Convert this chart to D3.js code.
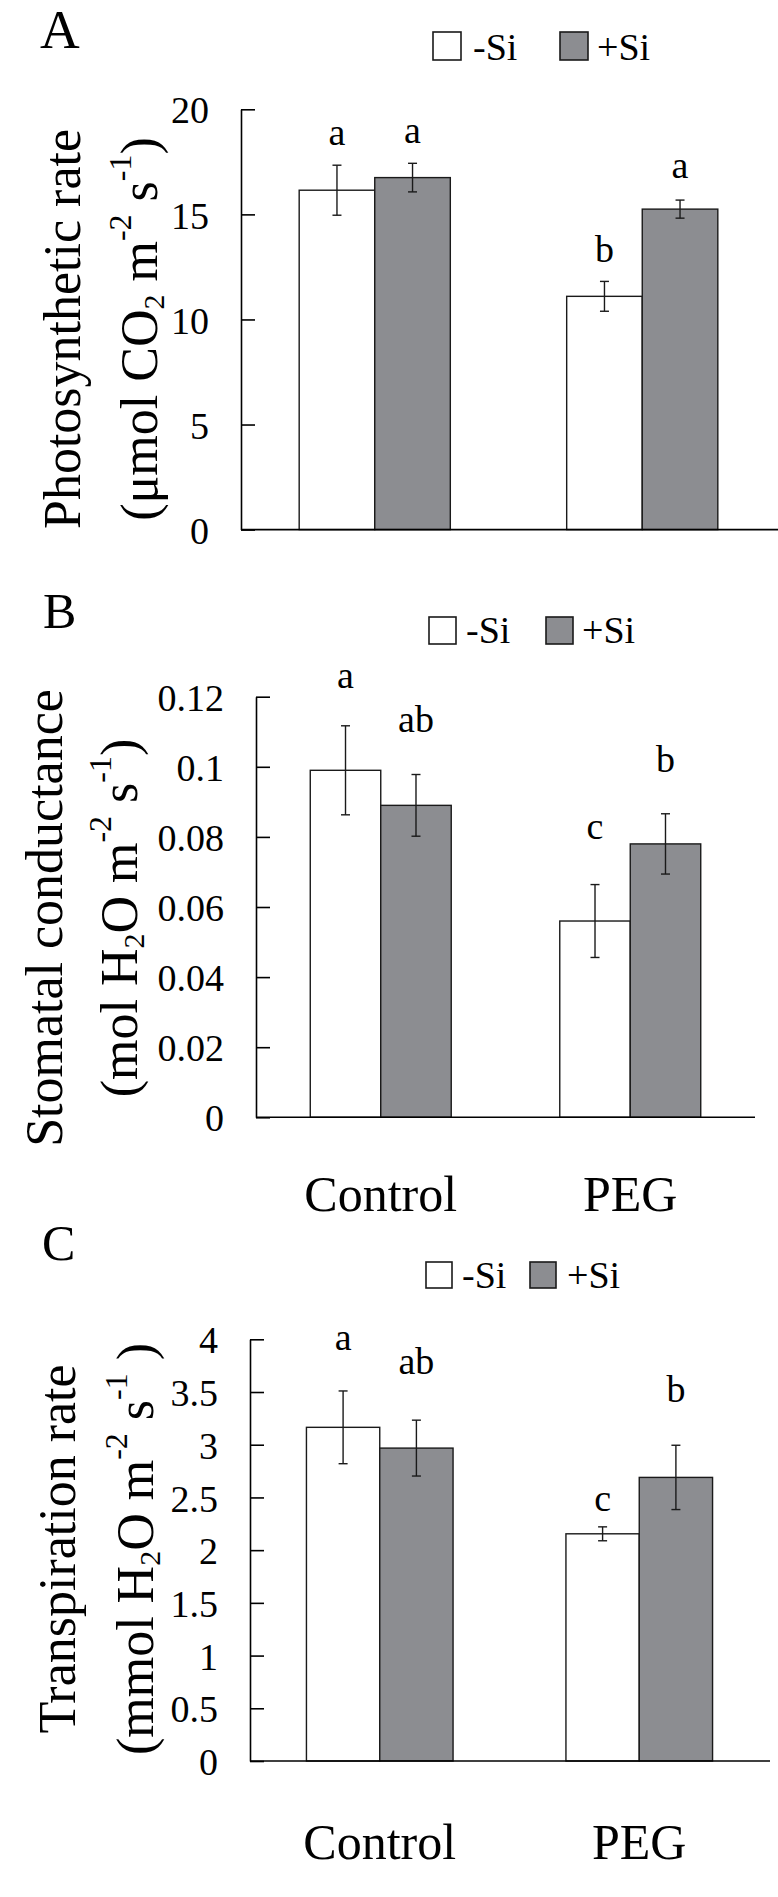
<!DOCTYPE html>
<html><head><meta charset="utf-8">
<script src="https://cdn.jsdelivr.net/npm/d3@7"></script>
<style>
body{margin:0;background:#fff}
svg{display:block}
text{font-family:"Liberation Serif","Times New Roman",serif;fill:#000}
</style>
</head><body><div id="chart"></div>
<script>
// ---------- data ----------
const categories = ["Control", "PEG"];
const seriesNames = ["-Si", "+Si"];

// A: Photosynthetic rate
const photoMinus = [16.15, 11.10];
const photoPlus = [16.75, 15.25];
const photoErrMinus = [1.19, 0.71];
const photoErrPlus = [0.68, 0.43];
const photoLetMinus = ["a", "b"];
const photoLetPlus = ["a", "a"];
const photoTicks = [0, 5, 10, 15, 20];
const photoTickLabels = ["0", "5", "10", "15", "20"];

// B: Stomatal conductance
const condMinus = [0.099, 0.056];
const condPlus = [0.089, 0.078];
const condErrMinus = [0.0127, 0.0104];
const condErrPlus = [0.0088, 0.0086];
const condLetMinus = ["a", "c"];
const condLetPlus = ["ab", "b"];
const condTicks = [0, 0.02, 0.04, 0.06, 0.08, 0.1, 0.12];
const condTickLabels = ["0", "0.02", "0.04", "0.06", "0.08", "0.1", "0.12"];

// C: Transpiration rate
const transMinus = [3.165, 2.155];
const transPlus = [2.968, 2.690];
const transErrMinus = [0.345, 0.066];
const transErrPlus = [0.265, 0.305];
const transLetMinus = ["a", "c"];
const transLetPlus = ["ab", "b"];
const transTicks = [0, 0.5, 1, 1.5, 2, 2.5, 3, 3.5, 4];
const transTickLabels = ["0", "0.5", "1", "1.5", "2", "2.5", "3", "3.5", "4"];

// ---------- layout ----------
const W = 778, H = 1897;
const GRAY = "#8c8d91";
const FONT = '"Liberation Serif","Times New Roman",serif';

const panels = [
  {
    letter: "A", letterX: 40, letterY: 48, letterSize: 55,
    values: [photoMinus, photoPlus], errs: [photoErrMinus, photoErrPlus],
    lets: [photoLetMinus, photoLetPlus], gaps: [[20, 19], [20, 22]],
    ticks: photoTicks, tickLabels: photoTickLabels, max: 20,
    x0: 241, x1: 776, axisEnd: 778, yTop: 109.3, yBottom: 529.6,
    legend: {boxes: [433, 560], texts: [473, 597], y: 32, size: 28, base: 60},
    ylab: {cy: 329, b1: 80, b2: 157,
      line1: [["Photosynthetic rate"]],
      line2: [["(μmol CO"], ["2", "sub"], [" m"], ["-2", "sup"], [" s"], ["-1", "sup"], [")"]]},
    cat: null
  },
  {
    letter: "B", letterX: 43, letterY: 628, letterSize: 50,
    values: [condMinus, condPlus], errs: [condErrMinus, condErrPlus],
    lets: [condLetMinus, condLetPlus], gaps: [[38, 46], [43, 42]],
    ticks: condTicks, tickLabels: condTickLabels, max: 0.12,
    x0: 256, x1: 755, axisEnd: 755, yTop: 696.7, yBottom: 1117.3,
    legend: {boxes: [429, 546], texts: [466, 582], y: 617, size: 27, base: 643},
    ylab: {cy: 918, b1: 62, b2: 137,
      line1: [["Stomatal conductance"]],
      line2: [["(mol H"], ["2", "sub"], ["O m"], ["-2", "sup"], [" s"], ["-1", "sup"], [")"]]},
    cat: 1211
  },
  {
    letter: "C", letterX: 42, letterY: 1260, letterSize: 50,
    values: [transMinus, transPlus], errs: [transErrMinus, transErrPlus],
    lets: [transLetMinus, transLetPlus], gaps: [[41, 16], [46, 43]],
    ticks: transTicks, tickLabels: transTickLabels, max: 4,
    x0: 250, x1: 769, axisEnd: 770, yTop: 1339.3, yBottom: 1761,
    legend: {boxes: [426, 530], texts: [462, 567], y: 1262, size: 26, base: 1288},
    ylab: {cy: 1549, b1: 75, b2: 153,
      line1: [["Transpiration rate"]],
      line2: [["(mmol H"], ["2", "sub"], ["O m"], ["-2", "sup"], [" s"], ["-1", "sup"], [" )"]]},
    cat: 1859
  }
];

const svg = d3.select("#chart").append("svg").attr("width", W).attr("height", H)
  .style("background", "#fff");

function richText(sel, segs, size) {
  let shift = 0;
  segs.forEach(([t, kind]) => {
    const ts = sel.append("tspan").text(t);
    let target = 0, fs = size;
    if (kind === "sup") { target = -26; fs = 32; }
    if (kind === "sub") { target = 7; fs = 30; }
    ts.attr("dy", target - shift).attr("font-size", fs);
    shift = target;
  });
}

panels.forEach(p => {
  const g = svg.append("g");
  const x = d3.scaleBand().domain(categories).range([p.x0, p.x1])
    .paddingInner(0.435).paddingOuter(0.2175);
  const xs = d3.scaleBand().domain(seriesNames).range([0, x.bandwidth()]);
  const y = d3.scaleLinear().domain([0, p.max]).range([p.yBottom, p.yTop]);

  const rows = [];
  categories.forEach((c, i) => seriesNames.forEach((s, j) => {
    rows.push({c, s, j, v: p.values[j][i], e: p.errs[j][i], l: p.lets[j][i], gap: p.gaps[j][i]});
  }));

  // bars
  g.selectAll("rect.bar").data(rows).join("rect").attr("class", "bar")
    .attr("x", d => x(d.c) + xs(d.s))
    .attr("y", d => y(d.v))
    .attr("width", xs.bandwidth())
    .attr("height", d => y(0) - y(d.v))
    .attr("fill", d => d.j ? GRAY : "#fff")
    .attr("stroke", "#1a1a1a").attr("stroke-width", 1.4);

  // error bars
  const cx = d => x(d.c) + xs(d.s) + xs.bandwidth() / 2;
  const eb = g.selectAll("g.err").data(rows).join("g").attr("class", "err")
    .attr("stroke", "#1a1a1a").attr("stroke-width", 1.4);
  eb.append("line").attr("x1", cx).attr("x2", cx)
    .attr("y1", d => y(d.v + d.e)).attr("y2", d => y(d.v - d.e));
  eb.append("line").attr("x1", d => cx(d) - 4.5).attr("x2", d => cx(d) + 4.5)
    .attr("y1", d => y(d.v + d.e)).attr("y2", d => y(d.v + d.e));
  eb.append("line").attr("x1", d => cx(d) - 4.5).attr("x2", d => cx(d) + 4.5)
    .attr("y1", d => y(d.v - d.e)).attr("y2", d => y(d.v - d.e));

  // significance letters
  g.selectAll("text.sig").data(rows).join("text").attr("class", "sig")
    .attr("x", cx).attr("y", d => y(d.v + d.e) - d.gap)
    .attr("text-anchor", "middle").attr("font-size", 38).text(d => d.l);

  // y axis
  const ax = g.append("g").attr("transform", `translate(${p.x0},0)`)
    .call(d3.axisLeft(y).tickValues(p.ticks).tickFormat((d, i) => p.tickLabels[i])
      .tickSizeInner(-14).tickSizeOuter(0).tickPadding(32));
  ax.attr("font-size", 38).attr("font-family", FONT);
  ax.selectAll("line").attr("stroke", "#000").attr("stroke-width", 1.6);
  ax.select(".domain").attr("stroke", "#000").attr("stroke-width", 1.6);
  ax.selectAll("text").attr("fill", "#000").attr("dy", "0.36em");

  // x axis line
  g.append("line").attr("x1", p.x0).attr("x2", p.axisEnd)
    .attr("y1", y(0)).attr("y2", y(0))
    .attr("stroke", "#000").attr("stroke-width", 1.6);

  // category labels
  if (p.cat) {
    g.selectAll("text.cat").data(categories).join("text").attr("class", "cat")
      .attr("x", d => x(d) + x.bandwidth() / 2).attr("y", p.cat)
      .attr("text-anchor", "middle").attr("font-size", 50).text(d => d);
  }

  // panel letter
  g.append("text").attr("x", p.letterX).attr("y", p.letterY)
    .attr("font-size", p.letterSize).text(p.letter);

  // legend
  const L = p.legend;
  seriesNames.forEach((s, j) => {
    g.append("rect").attr("x", L.boxes[j]).attr("y", L.y)
      .attr("width", L.size).attr("height", L.size)
      .attr("fill", j ? GRAY : "#fff").attr("stroke", "#1a1a1a").attr("stroke-width", 1.6);
    g.append("text").attr("x", L.texts[j]).attr("y", L.base)
      .attr("font-size", 38).text(s);
  });

  // y label (two lines, rotated)
  const t1 = g.append("text").attr("text-anchor", "middle").attr("font-size", 52)
    .attr("transform", `translate(${p.ylab.b1},${p.ylab.cy}) rotate(-90)`);
  richText(t1, p.ylab.line1, 52);
  const t2 = g.append("text").attr("text-anchor", "middle").attr("font-size", 52)
    .attr("transform", `translate(${p.ylab.b2},${p.ylab.cy}) rotate(-90)`);
  richText(t2, p.ylab.line2, 52);
});
</script>
</body></html>
